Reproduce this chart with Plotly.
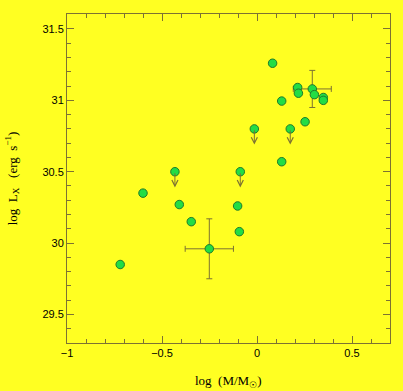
import plotly.graph_objects as go

# detections
det_x = [0.082, 0.214, 0.218, 0.302, 0.130, 0.349, 0.349, 0.253, 0.130,
         -0.600, -0.409, -0.102, -0.346, -0.093, -0.720]
det_y = [31.26, 31.09, 31.05, 31.04, 30.995, 31.02, 31.00, 30.85, 30.57,
         30.35, 30.27, 30.26, 30.15, 30.08, 29.85]

# points with error bars
err_x = [0.291, -0.251]
err_y = [31.08, 29.96]
err_dx = [0.10, 0.127]
err_dy = [0.13, 0.21]

# upper limits
ul_x = [-0.014, 0.175, -0.432, -0.088]
ul_y = [30.80, 30.80, 30.50, 30.50]
arrow_len = 0.11

BG = "#ffff22"
LINE = "#7d7232"
GREEN = "#22dd44"
EDGE = "#1f7a2a"

fig = go.Figure()

fig.add_trace(go.Scatter(
    x=err_x, y=err_y, mode="markers",
    marker=dict(size=8.5, color=GREEN, line=dict(color=EDGE, width=1)),
    error_x=dict(type="data", array=err_dx, color=LINE, thickness=1, width=3),
    error_y=dict(type="data", array=err_dy, color=LINE, thickness=1, width=3),
    showlegend=False, hoverinfo="skip"))

for xx, yy in zip(ul_x, ul_y):
    fig.add_annotation(x=xx, y=yy - arrow_len, ax=xx, ay=yy,
                       xref="x", yref="y", axref="x", ayref="y",
                       showarrow=True, arrowhead=5, arrowsize=1.2,
                       arrowwidth=1, arrowcolor=LINE, text="")

fig.add_trace(go.Scatter(
    x=det_x + ul_x, y=det_y + ul_y, mode="markers",
    marker=dict(size=8.5, color=GREEN, line=dict(color=EDGE, width=1)),
    showlegend=False, hoverinfo="skip"))

axis_common = dict(
    showgrid=False, zeroline=False, showline=True, linecolor=LINE, linewidth=1,
    mirror="allticks", ticks="inside", ticklen=7, tickcolor=LINE, tickwidth=1,
    tickfont=dict(family="Liberation Sans", size=11, color="black"),
    minor=dict(ticks="inside", ticklen=4, tickcolor=LINE, dtick=0.1),
)

fig.update_xaxes(range=[-1, 0.7], dtick=0.5, tick0=0, **axis_common)
fig.update_yaxes(range=[29.3, 31.605], dtick=0.5, tick0=29.5, **axis_common)

fig.add_annotation(x=0.5, y=-0.085, xref="paper", yref="paper", showarrow=False,
                   text="log\u00a0\u00a0(M/M<sub>\u2609</sub>)",
                   font=dict(family="Liberation Serif", size=13, color="black"),
                   yanchor="top")
fig.add_annotation(x=-0.205, y=0.5, xref="paper", yref="paper", showarrow=False,
                   text="log\u00a0\u00a0L<sub>X</sub>\u00a0\u00a0\u00a0(erg\u00a0\u00a0s<sup>\u22121</sup>)",
                   textangle=-90,
                   font=dict(family="Liberation Serif", size=13, color="black"))

fig.update_layout(
    width=403, height=391,
    margin=dict(l=67, r=13, t=14, b=48),
    paper_bgcolor=BG, plot_bgcolor=BG,
)

fig.write_html("out.html",
               config={"displayModeBar": False},
               post_script="document.body.style.margin='0';"
                           "document.body.style.background='#ffff22';"
                           "document.body.style.overflow='hidden';")
